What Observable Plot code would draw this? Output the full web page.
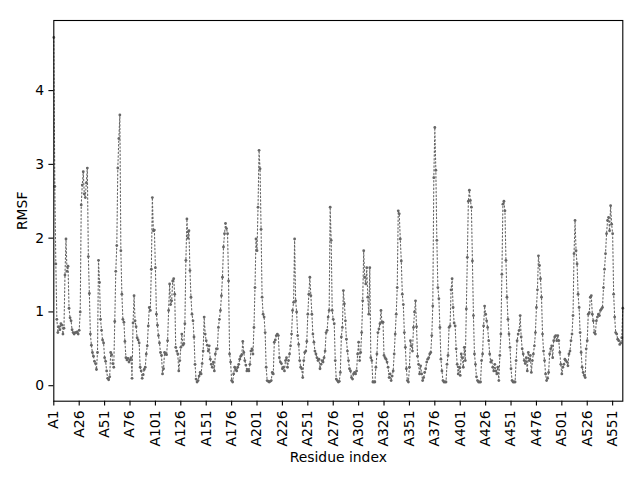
<!DOCTYPE html>
<html>
<head>
<meta charset="utf-8">
<script src="https://cdn.jsdelivr.net/npm/d3@7"></script>
<script src="https://cdn.jsdelivr.net/npm/@observablehq/plot@0.6"></script>
<style>
  html, body { margin: 0; padding: 0; background: white; }
</style>
</head>
<body>
<div id="chart"></div>
<script>
// RMSF per residue
const rmsf = [
  4.72, 2.7, 1.65, 0.9, 0.72, 0.8, 0.76, 0.84, 0.82, 0.7,
  0.78, 1.5, 1.99, 1.55, 1.62, 1.05, 0.92, 0.88, 0.76, 0.72, 0.7, 0.72,
  0.72, 0.73, 0.7, 0.75, 1.0, 2.45, 2.72,
  2.9, 2.6, 2.55, 2.75, 2.95, 1.75, 1.25, 0.7, 0.55, 0.45,
  0.4, 0.33, 0.3, 0.22, 0.45, 1.7, 1.4, 0.9, 0.75, 0.62,
  0.58, 0.38, 0.33, 0.2, 0.1, 0.08, 0.12, 0.45, 0.42, 0.3,
  0.25, 0.87, 1.55, 1.9, 2.95, 3.35, 3.67, 1.83, 1.24, 0.9,
  0.86, 0.6, 0.38, 0.35, 0.37, 0.32, 0.35, 0.38, 0.1, 0.85,
  1.22, 0.88, 0.8, 0.65, 0.62, 0.58, 0.25, 0.2, 0.1,
  0.15, 0.22, 0.25, 0.43, 0.54, 0.81, 1.06, 1.02, 1.58, 2.55,
  2.1, 2.11, 1.6, 0.97, 0.82, 0.68, 0.58, 0.45, 0.41, 0.16,
  0.23, 0.45, 0.43, 0.42, 0.61, 1.02, 1.38, 1.1, 1.15, 1.42,
  1.45, 1.24, 0.52, 0.47, 0.43, 0.2, 0.34, 0.52, 0.7, 0.55,
  0.57, 0.84, 1.7, 2.26, 2.0, 2.1, 1.56, 1.2, 0.97, 0.88,
  0.66, 0.29, 0.09, 0.05, 0.07, 0.13, 0.18, 0.16, 0.3, 0.47,
  0.93, 0.7, 0.61, 0.55, 0.47, 0.54, 0.36,
  0.29, 0.25, 0.32, 0.2, 0.43, 0.5, 0.5, 0.79, 0.9, 1.02, 1.22, 1.47,
  1.88, 2.06, 2.2, 2.13, 2.06, 1.42, 0.43, 0.32, 0.07, 0.05,
  0.16, 0.25, 0.22, 0.2, 0.25, 0.29, 0.36, 0.4, 0.42, 0.6,
  0.45, 0.34, 0.28, 0.2, 0.22, 0.2, 0.29, 0.47, 0.5, 0.43,
  0.79, 1.33, 1.99, 1.83, 2.42, 3.19, 2.94, 2.12, 1.2, 0.97,
  0.93, 0.72, 0.25, 0.07, 0.06, 0.05, 0.06, 0.07, 0.18, 0.16,
  0.59, 0.62, 0.68, 0.7, 0.68, 0.38, 0.32, 0.3,
  0.23, 0.25, 0.2, 0.34, 0.38, 0.25, 0.34, 0.43, 0.54, 0.7, 1.02,
  1.13, 1.99, 1.15, 1.0, 0.68, 0.56, 0.34, 0.25, 0.23, 0.11,
  0.34, 0.45, 0.47, 0.6, 0.97, 1.24, 1.47, 1.22, 0.97, 0.7,
  0.59, 0.47, 0.43, 0.38, 0.34, 0.36, 0.23, 0.29, 0.34, 0.32,
  0.38, 0.47, 0.72, 0.75, 0.93, 1.02, 2.42, 1.97, 1.02, 0.9,
  0.84, 0.34, 0.09, 0.07,
  0.05, 0.06, 0.18, 0.66, 0.79,
  1.29, 1.11, 0.88, 0.63, 0.47, 0.34, 0.23, 0.2, 0.11, 0.09,
  0.16, 0.18, 0.16, 0.2, 0.43, 0.59, 0.34, 0.45, 0.72, 1.15,
  1.83, 1.47, 1.38, 1.6, 1.2, 0.97, 1.6, 0.38, 0.34, 0.05,
  0.05, 0.05, 0.25, 0.43, 0.72, 0.77, 0.84, 1.02, 0.86, 0.86,
  0.41, 0.38, 0.36, 0.32, 0.25, 0.11, 0.16, 0.07,
  0.13, 0.2, 0.43, 0.7, 0.97, 1.33, 2.37, 2.33, 1.99, 1.69, 1.24,
  1.1, 0.72, 0.52, 0.23, 0.07, 0.05, 0.25, 0.61, 0.54, 0.47,
  0.79, 1.0, 1.15, 0.8, 0.4, 0.29, 0.16, 0.27, 0.16, 0.07,
  0.11, 0.18, 0.23, 0.32, 0.36, 0.38, 0.43, 0.45, 0.68, 1.08,
  2.82, 3.5, 2.92, 1.97, 1.33, 1.18, 0.79, 0.36, 0.2, 0.07,
  0.05, 0.05, 0.05, 0.29, 0.41, 0.79, 0.81, 1.3, 1.45, 1.06,
  0.85, 0.81, 0.5, 0.29, 0.16, 0.25,
  0.14, 0.43, 0.38, 0.25, 0.52, 0.34, 1.04, 1.74, 2.5, 2.65, 2.51, 2.42, 1.69,
  0.95, 0.43, 0.29, 0.12, 0.07, 0.05, 0.05, 0.05, 0.34, 0.43,
  0.81, 1.08, 0.97, 0.88, 0.79, 0.61, 0.43, 0.32, 0.34, 0.25,
  0.2, 0.29, 0.2, 0.16, 0.25, 0.07, 0.41, 0.7, 1.51, 2.46,
  2.5, 2.37, 1.7, 1.2, 0.9, 0.7, 0.52, 0.23, 0.07, 0.05,
  0.05, 0.05, 0.34, 0.61, 0.7, 0.75, 0.95, 0.66, 0.5, 0.43,
  0.34, 0.3, 0.38, 0.2, 0.45, 0.34, 0.41, 0.18, 0.34,
  0.43, 0.54, 0.72, 1.06, 1.3, 1.76, 1.63, 1.45, 1.2, 0.7,
  0.47, 0.34, 0.16, 0.07, 0.1, 0.18, 0.43, 0.5, 0.54, 0.38,
  0.61, 0.66, 0.68, 0.61, 0.68, 0.61, 0.45, 0.29, 0.16, 0.25,
  0.29, 0.36, 0.34, 0.32, 0.27, 0.43, 0.47, 0.61, 0.7, 0.95,
  1.79, 2.24, 1.83, 1.65, 1.24, 1.06, 0.72, 0.45, 0.25, 0.18,
  0.14, 0.11, 0.5, 0.61, 0.97, 0.99, 1.2, 1.22, 0.97, 0.88,
  0.72, 0.7, 0.88, 0.93, 0.97, 0.95, 1.02, 1.04, 1.06,
  1.33, 1.58, 1.79, 2.06, 2.24, 2.28, 2.1, 2.44, 2.19, 2.06,
  1.24, 0.93, 0.72, 0.7, 0.63, 0.61, 0.56, 0.58, 0.65, 1.05
];

// x tick positions (residue index) and their labels
const xTickIndex = [0, 25, 50, 75, 100, 125, 150, 175, 200, 225, 250, 275, 300, 325, 350, 375, 400, 425, 450, 475, 500, 525, 550];
const xTickLabels = ["A1", "A26", "A51", "A76", "A101", "A126", "A151", "A176", "A201", "A226", "A251", "A276", "A301", "A326", "A351", "A376", "A401", "A426", "A451", "A476", "A501", "A526", "A551"];
const yTicks = [0, 1, 2, 3, 4];
const yTickLabels = ["0", "1", "2", "3", "4"];

const data = rmsf.map((v, i) => ({i, v}));
const xTicks = xTickIndex.map((d, k) => ({d, label: xTickLabels[k]}));
const yLabelMap = new Map(yTicks.map((d, k) => [d, yTickLabels[k]]));
const col = "#666666";
const fs = 13.9;

const chart = Plot.plot({
  width: 640,
  height: 480,
  marginLeft: 53.3,
  marginRight: 17.7,
  marginTop: 20,
  marginBottom: 79.3,
  style: {fontFamily: "DejaVu Sans", fontSize: fs + "px", background: "white", color: "black", overflow: "visible"},
  x: {domain: [0, rmsf.length - 1]},
  y: {domain: [-0.21, 4.95]},
  marks: [
    Plot.line(data, {x: "i", y: "v", stroke: col, strokeWidth: 1.1, strokeDasharray: "1.4,2.3"}),
    Plot.dot(data, {x: "i", y: "v", r: 1.4, fill: col, stroke: "none"}),
    Plot.frame({stroke: "black", strokeWidth: 1.1}),
    Plot.axisY({ticks: yTicks, tickFormat: d => yLabelMap.get(d), tickSize: 4.9, tickPadding: 4.9, fontSize: fs, label: null, strokeWidth: 1.1}),
    Plot.axisX({ticks: xTickIndex, tickFormat: () => "", tickSize: 4.9, label: null, strokeWidth: 1.1}),
    Plot.text(xTicks, {x: "d", text: "label", frameAnchor: "bottom", dy: 9.3, rotate: -90, textAnchor: "end", lineAnchor: "middle", fontSize: fs, fill: "black"}),
    Plot.text(["Residue index"], {frameAnchor: "bottom", dy: 56, fontSize: fs, fill: "black", textAnchor: "middle", lineAnchor: "middle"}),
    Plot.text(["RMSF"], {frameAnchor: "left", dx: -31, rotate: -90, fontSize: fs, fill: "black", textAnchor: "middle", lineAnchor: "middle"})
  ]
});
document.getElementById("chart").appendChild(chart);
</script>
</body>
</html>
